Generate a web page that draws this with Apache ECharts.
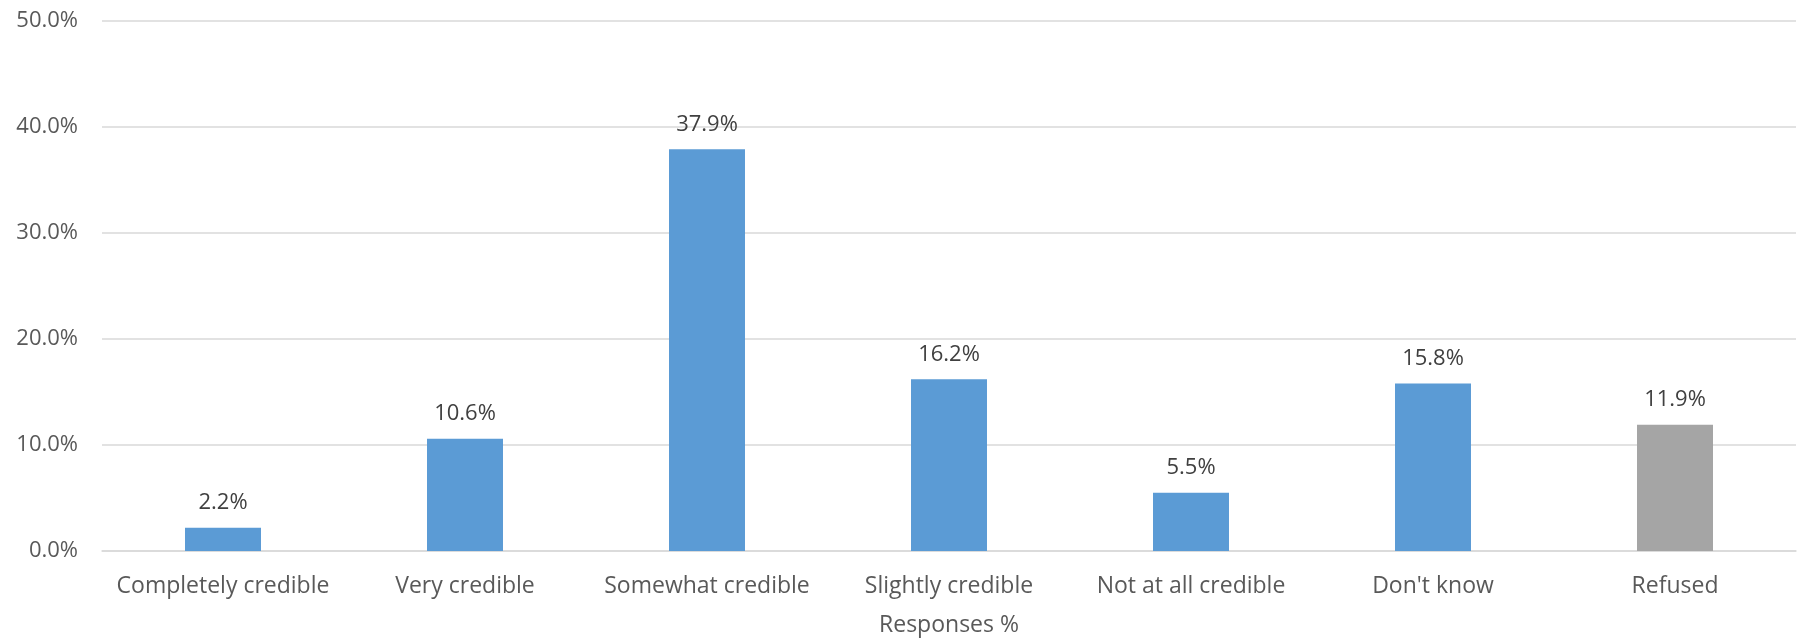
<!DOCTYPE html>
<html>
<head>
<meta charset="utf-8">
<script src="https://cdn.jsdelivr.net/npm/echarts@6/dist/echarts.min.js"></script>
<style>html,body{margin:0;padding:0;background:#fff}#c{width:1797px;height:642px}</style>
</head>
<body>
<div id="c"></div>
<script>
const categories = ["Completely credible","Very credible","Somewhat credible","Slightly credible","Not at all credible","Don't know","Refused"];
const values = [2.2, 10.6, 37.9, 16.2, 5.5, 15.8, 11.9];
const barColors = ["#5B9BD5","#5B9BD5","#5B9BD5","#5B9BD5","#5B9BD5","#5B9BD5","#A5A5A5"];
const axisTitle = "Responses %";

const font = "'Open Sans', 'Noto Sans', sans-serif";
const chart = echarts.init(document.getElementById('c'), null, {renderer:'canvas'});
chart.setOption({
  animation:false,
  grid:{left:102, right:1, top:21, bottom:88, containLabel:false},
  xAxis:{
    type:'category', data:categories,
    name:axisTitle, nameLocation:'middle', nameGap:63,
    nameTextStyle:{color:'#595959', fontSize:23, fontFamily:font},
    axisLine:{lineStyle:{color:'#D9D9D9', width:1.5}},
    axisTick:{show:false},
    axisLabel:{color:'#595959', fontSize:23, fontFamily:font, margin:24, interval:0, hideOverlap:false}
  },
  yAxis:{
    type:'value', min:0, max:50, interval:10,
    axisLabel:{color:'#595959', fontSize:22, fontFamily:font, margin:24, formatter:v=>v.toFixed(1)+'%'},
    splitLine:{lineStyle:{color:'#D9D9D9', width:1.5}},
    axisLine:{show:false}, axisTick:{show:false}
  },
  series:[{
    type:'bar',
    data:values.map((v,i)=>({value:v, itemStyle:{color:barColors[i]}})),
    barWidth:'31.4%',
    label:{show:true, position:'top', distance:14, color:'#404040', fontSize:22, fontFamily:font, formatter:p=>p.value.toFixed(1)+'%'}
  }]
});
</script>
</body>
</html>
